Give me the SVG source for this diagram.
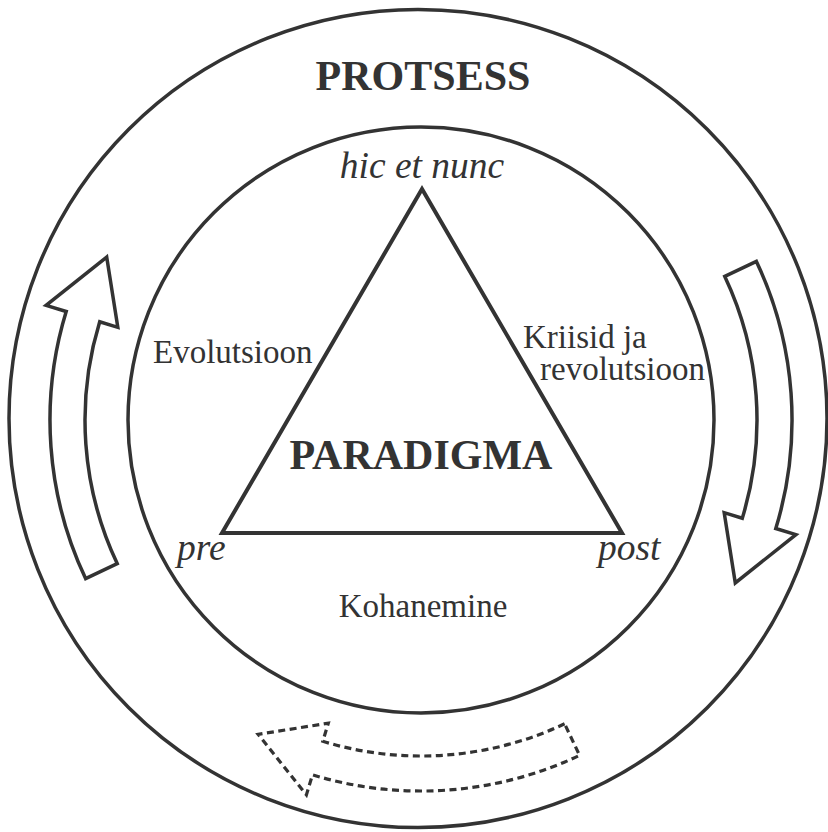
<svg xmlns="http://www.w3.org/2000/svg" width="828" height="832" viewBox="0 0 828 832">
  <style>
    .ring { fill: none; stroke: #333; stroke-width: 3.5; }
    .tri { fill: #fff; stroke: #333; stroke-width: 4; stroke-linejoin: miter; }
    .arrow { fill: #fff; stroke: #333; stroke-width: 3.5; stroke-linejoin: miter; }
    .arrow-dash { fill: none; stroke: #333; stroke-width: 3.2; stroke-dasharray: 7 4.5; stroke-linejoin: miter; }
    .title { font-family: "Liberation Serif", "Times New Roman", serif; font-weight: bold; font-size: 42px; fill: #333; text-anchor: middle; }
    .label { font-family: "Liberation Serif", "Times New Roman", serif; font-size: 33px; fill: #333; }
    .ital { font-family: "Liberation Serif", "Times New Roman", serif; font-style: italic; font-size: 37.5px; fill: #333; }
  </style>
  <defs>
    <!-- curved block arrow in polar layout around the centre, pointing clockwise -->
    <path id="cycle-arrow" d="M 143.6 303.8 A 336 336 0 0 1 -98.2 321.3 L -92.7 303.2 L -162.9 314.3 L -114.6 374.9 L -108.5 354.8 A 371 371 0 0 0 158.6 335.4 Z"/>
  </defs>

  <g id="outer-ring">
    <circle class="ring" cx="418" cy="418.5" r="409" stroke-width="3"/>
    <text class="title" x="423" y="90">PROTSESS</text>
  </g>

  <g id="inner-ring">
    <circle class="ring" cx="421" cy="420" r="293"/>
  </g>

  <g id="connectors">
    <use href="#cycle-arrow" class="arrow" transform="translate(421 420) rotate(90)"/>
    <use href="#cycle-arrow" class="arrow" transform="translate(421 420) rotate(-90)"/>
    <use href="#cycle-arrow" class="arrow-dash" transform="translate(421 420)"/>
  </g>

  <g id="paradigma">
    <polygon class="tri" points="422,189 222,533 622,533"/>
    <text class="title" x="421" y="469">PARADIGMA</text>
  </g>

  <g id="hic-et-nunc">
    <text class="ital" x="422" y="178" text-anchor="middle">hic et nunc</text>
  </g>
  <g id="pre">
    <text class="ital" x="177" y="560">pre</text>
  </g>
  <g id="post">
    <text class="ital" x="598" y="560">post</text>
  </g>

  <g id="evolutsioon">
    <text class="label" x="153" y="363">Evolutsioon</text>
  </g>
  <g id="kriisid">
    <text class="label" x="523" y="348">Kriisid ja</text>
    <text class="label" x="540" y="380">revolutsioon</text>
  </g>
  <g id="kohanemine">
    <text class="label" x="423" y="617" text-anchor="middle">Kohanemine</text>
  </g>
</svg>
